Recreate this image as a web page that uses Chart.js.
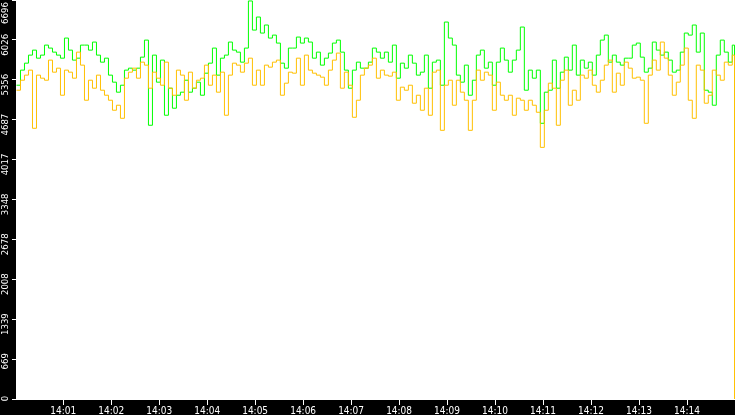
<!DOCTYPE html>
<html>
<head>
<meta charset="utf-8">
<script src="https://cdn.jsdelivr.net/npm/chart.js@4.4.1/dist/chart.umd.min.js"></script>
<style>
  html, body { margin: 0; padding: 0; background: #000; }
  canvas { display: block; }
</style>
</head>
<body>
<canvas id="myChart" width="735" height="415"></canvas>
<script>
// temps en secondes depuis 14:00:00, un échantillon toutes les 5 s
const sampleStart = 1.6
const sampleStep = 5
const endTime = 899.4

// série verte
const greenValues = [
  5266, 5519, 5636, 5771, 5855, 5720, 5771, 5939, 5889, 5821, 5771, 5720, 6057, 5855, 5687, 5720, 5939, 5939, 5855, 5990, 5771, 5653, 5720, 5435, 5317, 5149, 5266, 5519, 5552, 5519,
  5552, 5737, 6023, 4594, 5771, 5317, 5687, 4762, 5216, 4880, 5098, 5149, 5350, 5149, 5216, 5317, 5098, 5468, 5636, 5889, 5435, 5720, 5771, 5990, 5855, 5821, 5653, 5889, 6680, 6191,
  6410, 6141, 6276, 6057, 6107, 5973, 5636, 5552, 5889, 5889, 6074, 5973, 6057, 5990, 5720, 5821, 5603, 5720, 5805, 5973, 6023, 5821, 5519, 5216, 5519, 5653, 5552, 5552, 5653, 5889,
  5821, 5720, 5821, 5653, 5939, 5384, 5636, 5552, 5771, 5636, 5435, 5485, 5771, 5216, 5653, 5687, 5266, 6326, 6057, 5939, 5435, 5317, 5603, 5098, 5350, 5771, 5855, 5552, 5653, 5266,
  5653, 5889, 5687, 5485, 5687, 5855, 6242, 5182, 5519, 5384, 5519, 4627, 5149, 5182, 5687, 5216, 5485, 5737, 5519, 5939, 5435, 5687, 5552, 5653, 5435, 5771, 6023, 6107, 5653, 5771,
  5653, 5603, 5720, 5720, 5939, 5973, 5737, 5485, 5552, 5990, 5855, 5771, 5821, 5687, 5485, 5519, 5821, 6141, 6107, 6276, 5821, 6141, 5182, 5149, 4930, 5771, 6023, 5821, 5653, 5939,
  2980
]

// série orange
const orangeValues = [
  5182, 5350, 5435, 5519, 4543, 5435, 5384, 5350, 5687, 5485, 5552, 5098, 5519, 5485, 5384, 5821, 5603, 5014, 5350, 5216, 5435, 5182, 5098, 5014, 4846, 4930, 4711, 5384, 5485, 5552,
  5384, 5653, 5603, 5216, 5485, 5384, 5266, 5653, 5216, 5098, 5519, 5435, 5014, 5485, 5216, 5350, 5384, 5603, 5266, 5435, 5149, 5485, 4762, 5435, 5636, 5603, 5485, 5636, 5720, 5266,
  5519, 5266, 5603, 5569, 5653, 5687, 5098, 5300, 5485, 5468, 5720, 5266, 5771, 5519, 5468, 5435, 5401, 5266, 5519, 5687, 5805, 5216, 5485, 5266, 4728, 5014, 5435, 5552, 5603, 5720,
  5384, 5519, 5435, 5418, 5485, 5014, 5233, 5182, 5266, 4964, 5098, 4846, 5216, 4762, 5485, 5519, 4509, 5266, 5350, 4930, 5350, 5149, 5014, 4509, 5014, 5519, 5350, 5485, 5435, 4846,
  5317, 5098, 5014, 5098, 4762, 5048, 5014, 4846, 5014, 4930, 4812, 4223, 4846, 5300, 5216, 4594, 5350, 5519, 4930, 5182, 5014, 5435, 5384, 5519, 5266, 5149, 5350, 5603, 5687, 5149,
  5468, 5266, 5653, 5552, 5384, 5401, 5350, 4627, 5435, 5687, 5519, 5990, 5720, 5435, 5098, 5317, 5603, 5889, 5014, 4711, 5603, 5519, 4964, 5098, 5519, 5435, 5350, 5653, 5603, 5771,
  0
]

// graduations
const xTickValues = [60, 120, 180, 240, 300, 360, 420, 480, 540, 600, 660, 720, 780, 840]
const xTickLabels = ['14:01', '14:02', '14:03', '14:04', '14:05', '14:06', '14:07', '14:08', '14:09', '14:10', '14:11', '14:12', '14:13', '14:14']
const yTickValues = [0, 669.6, 1339.2, 2008.8, 2678.4, 3348, 4017.6, 4687.2, 5356.8, 6026.4, 6696]
const yTickLabels = ['0', '669', '1339', '2008', '2678', '3348', '4017', '4687', '5356', '6026', '6696']

const timeAt = i => i === greenValues.length - 1 ? endTime : sampleStart + i * sampleStep
const toPoints = values => values.map((v, i) => ({ x: timeAt(i), y: v }))

// fond noir, zone du graphe blanche
const backgroundPlugin = {
  id: 'background',
  beforeDraw: chart => {
    const { ctx, chartArea } = chart
    ctx.save()
    ctx.fillStyle = '#000'
    ctx.fillRect(0, 0, chart.width, chart.height)
    ctx.fillStyle = '#fff'
    ctx.fillRect(chartArea.left, chartArea.top, chartArea.right - chartArea.left, chartArea.bottom - chartArea.top)
    ctx.restore()
  }
}

const ctx = document.getElementById('myChart').getContext('2d')
const myChart = new Chart(ctx, {
  type: 'line',
  data: {
    datasets: [
      {
        label: 'orange',
        data: toPoints(orangeValues),
        borderColor: '#ffc000',
        borderWidth: 1,
        pointRadius: 0,
        stepped: true,
        fill: false,
        order: 0
      },
      {
        label: 'vert',
        data: toPoints(greenValues),
        borderColor: '#00ff00',
        borderWidth: 1,
        pointRadius: 0,
        stepped: true,
        fill: false,
        order: 1
      }
    ]
  },
  options: {
    responsive: false,
    animation: false,
    devicePixelRatio: 1,
    layout: { padding: 0 },
    plugins: {
      legend: { display: false },
      tooltip: { enabled: false }
    },
    scales: {
      x: {
        type: 'linear',
        min: 1,
        max: 900,
        afterBuildTicks: scale => { scale.ticks = xTickValues.map(v => ({ value: v })) },
        afterFit: scale => {
          scale.height = 16
          scale.paddingLeft = 0
          scale.paddingRight = 0
        },
        ticks: {
          callback: (v, i) => xTickLabels[i],
          color: '#fff',
          font: { family: "'DejaVu Sans Condensed', 'DejaVu Sans'", size: 10 },
          maxRotation: 0,
          autoSkip: false,
          padding: 0
        },
        grid: { drawOnChartArea: false, color: '#fff', tickLength: 6 },
        border: { color: '#fff', width: 1 }
      },
      y: {
        min: 0,
        max: 6696,
        afterBuildTicks: scale => { scale.ticks = yTickValues.map(v => ({ value: v })) },
        afterFit: scale => {
          scale.width = 16
          scale.paddingTop = 0
          scale.paddingBottom = 0
        },
        ticks: {
          // les étiquettes des extrémités restent dans le cadre
          callback: (v, i) => yTickLabels[i] + (i === 0 ? ' ' : i === yTickLabels.length - 1 ? '   ' : ''),
          color: '#fff',
          font: { family: "'DejaVu Sans Condensed', 'DejaVu Sans'", size: 9.5 },
          minRotation: 90,
          maxRotation: 90,
          autoSkip: false,
          padding: 6,
          labelOffset: -6
        },
        grid: { drawOnChartArea: false, color: '#fff', tickLength: 4 },
        border: { color: '#fff', width: 1 }
      }
    }
  },
  plugins: [backgroundPlugin]
})
</script>
</body>
</html>
